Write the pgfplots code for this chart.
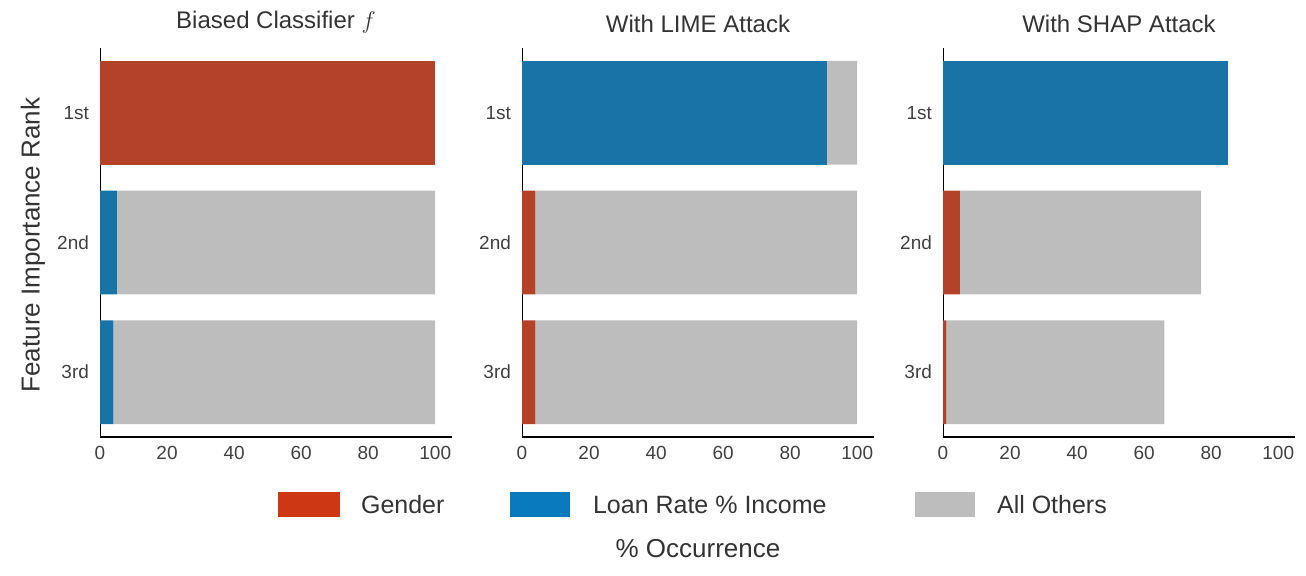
\documentclass[border=0pt]{standalone}
\usepackage{pgfplots}
\pgfplotsset{compat=1.18}
\usepackage{fontspec}
\setmainfont{Liberation Sans}
\definecolor{bred}{RGB}{179,66,41}
\definecolor{bblue}{RGB}{24,115,166}
\definecolor{bgray}{RGB}{189,189,189}
\definecolor{lred}{RGB}{205,55,20}
\definecolor{lblue}{RGB}{10,122,190}
\pgfplotsset{panel/.style={
  scale only axis, width=176pt, height=194.5pt,
  xbar stacked, bar width=0.8, y dir=reverse,
  xmin=0, xmax=105, ymin=0.5, ymax=3.5,
  ytick={1,2,3}, yticklabels={1st,2nd,3rd},
  xtick={0,20,40,60,80,100},
  axis x line*=bottom, axis y line=none,
  hide y axis=false,
  x axis line style={-, black, line width=0.8pt},
  major tick length=0pt,
  tick label style={font=\fontsize{9.5}{11}\selectfont, text=black!75},
  /pgf/number format/assume math mode=true,
  yticklabel style={xshift=-2pt},
  xticklabel style={yshift=-1pt},
  title style={font=\fontsize{12}{14}\selectfont, text=black!80, yshift=-2pt},
  anchor=south west, clip=false,
  every axis plot/.append style={draw=none},
}}
\begin{document}
\begin{tikzpicture}[x=1pt,y=1pt]
\path (0,0) rectangle (653,287.5);
\begin{axis}[panel, at={(50pt,69pt)}, title={Biased Classifier $f$}]
\addplot[fill=bred] coordinates {(100,1) (0,2) (0,3)};
\addplot[fill=bblue] coordinates {(0,1) (5,2) (4,3)};
\addplot[fill=bgray] coordinates {(0,1) (95,2) (96,3)};
\end{axis}
\begin{axis}[panel, at={(261pt,69pt)}, title={With LIME Attack}]
\addplot[fill=bred] coordinates {(0,1) (4,2) (4,3)};
\addplot[fill=bblue] coordinates {(91,1) (0,2) (0,3)};
\addplot[fill=bgray] coordinates {(9,1) (96,2) (96,3)};
\end{axis}
\begin{axis}[panel, at={(471.5pt,69pt)}, title={With SHAP Attack}]
\addplot[fill=bred] coordinates {(0,1) (5,2) (1,3)};
\addplot[fill=bblue] coordinates {(85,1) (0,2) (0,3)};
\addplot[fill=bgray] coordinates {(0,1) (72,2) (65,3)};
\end{axis}
\node[rotate=90, font=\fontsize{13}{15}\selectfont, text=black!80] at (16.5,165) {Feature Importance Rank};
\fill[lred] (139,29) rectangle (170,41.5);
\node[anchor=west, font=\fontsize{12.5}{15}\selectfont, text=black!80] at (177,35) {Gender};
\fill[lblue] (255,29) rectangle (285,41.5);
\node[anchor=west, font=\fontsize{12.5}{15}\selectfont, text=black!80] at (293,35) {Loan Rate \% Income};
\fill[bgray] (457.5,29) rectangle (487.5,41.5);
\node[anchor=west, font=\fontsize{12.5}{15}\selectfont, text=black!80] at (495,35) {All Others};
\node[font=\fontsize{13}{15}\selectfont, text=black!80] at (349,13) {\% Occurrence};
\end{tikzpicture}
\end{document}
